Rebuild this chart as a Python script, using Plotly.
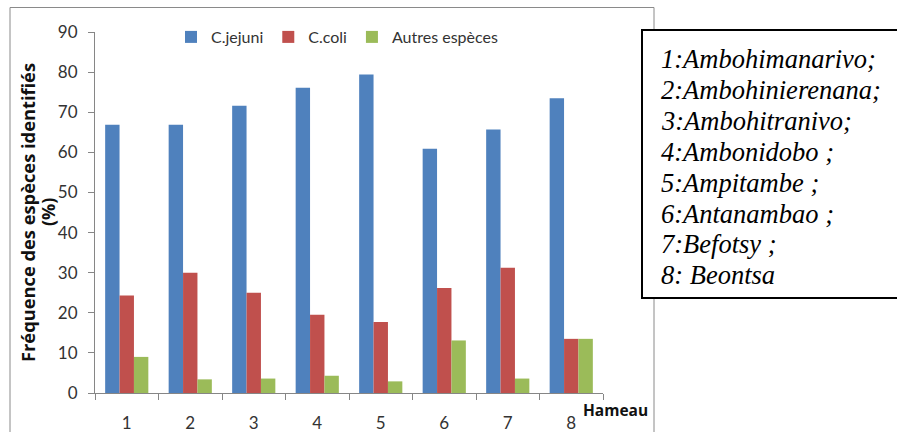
import plotly.graph_objects as go

# ---- data ----
hameaux = ["1", "2", "3", "4", "5", "6", "7", "8"]
c_jejuni = [66.9, 66.9, 71.6, 76.1, 79.4, 60.9, 65.7, 73.5]
c_coli = [24.3, 30.0, 25.0, 19.5, 17.7, 26.2, 31.2, 13.5]
autres = [9.0, 3.4, 3.6, 4.3, 2.9, 13.1, 3.6, 13.5]
series_names = ["C.jejuni", "C.coli", "Autres espèces"]
series_colors = ["#4F81BD", "#C0504D", "#9BBB59"]
y_ticks = [0, 10, 20, 30, 40, 50, 60, 70, 80, 90]
legend_lines = [
    "1:Ambohimanarivo;",
    "2:Ambohinierenana;",
    "3:Ambohitranivo;",
    "4:Ambonidobo ;",
    "5:Ampitambe ;",
    "6:Antanambao ;",
    "7:Befotsy ;",
    "8: Beontsa",
]

W, H = 897, 432
L, R, T, B = 95, 897 - 603, 32, 432 - 393
PW, PH = W - L - R, H - T - B


def px2x(px):
    return (px - L) / PW


def py2y(py):
    return (H - B - py) / PH


FONT = "Lato, Liberation Sans, Arial, sans-serif"
BOLD_FONT = "Open Sans, Liberation Sans, Arial, sans-serif"
SERIF = "Liberation Serif, Times New Roman, serif"

fig = go.Figure()
for name, vals, col in zip(series_names, [c_jejuni, c_coli, autres], series_colors):
    fig.add_trace(go.Bar(x=hameaux, y=vals, name=name, marker=dict(color=col, line=dict(width=0))))

fig.update_layout(
    width=W, height=H,
    margin=dict(l=L, r=R, t=T, b=B, pad=0, autoexpand=False),
    paper_bgcolor="white", plot_bgcolor="white",
    barmode="group", bargap=0.32, bargroupgap=0,
    font=dict(family=FONT, size=16, color="#333333"),
    showlegend=True,
    legend=dict(orientation="h", x=px2x(171), xanchor="left", y=py2y(37), yanchor="middle",
                font=dict(size=16, color="#333333"), bgcolor="rgba(0,0,0,0)",
                itemwidth=30, tracegroupgap=0),
    xaxis=dict(type="category", automargin=False, showline=True, linecolor="#868686", linewidth=1,
               ticks="outside", ticklen=6, tickcolor="#868686", tickson="boundaries",
               ticklabelstandoff=15, showgrid=False, zeroline=False,
               tickfont=dict(size=17, color="#333333")),
    yaxis=dict(range=[0, 90], tickvals=y_ticks, automargin=False, showline=True,
               linecolor="#868686", linewidth=1,
               ticks="outside", ticklen=6, tickcolor="#868686", showgrid=False, zeroline=False,
               tickfont=dict(size=17, color="#333333"), ticklabelstandoff=7,
               title=dict(text="<b>Fréquence des espèces identifiés</b>",
                          font=dict(size=18.3, color="#111111", family=BOLD_FONT), standoff=17)),
)

# second line of the y-axis title
fig.add_annotation(text="<b>(%)</b>", xref="paper", yref="paper",
                   x=px2x(47.5), y=0.5, xanchor="center", yanchor="middle", textangle=-90,
                   showarrow=False, font=dict(size=18, color="#111111", family=BOLD_FONT))

# chart outer frame
fig.add_shape(type="rect", xref="paper", yref="paper",
              x0=px2x(10), x1=px2x(654), y0=py2y(445), y1=py2y(7.5),
              line=dict(color="#8A8A8A", width=1), fillcolor="rgba(0,0,0,0)", layer="above")

# "Hameau" axis label
fig.add_annotation(text="<b>Hameau</b>", xref="paper", yref="paper",
                   x=px2x(615), y=py2y(410), xanchor="center", yanchor="middle",
                   showarrow=False, font=dict(size=15.5, color="#111111", family=BOLD_FONT))

# Text box with village names
fig.add_shape(type="rect", xref="paper", yref="paper",
              x0=px2x(642), x1=px2x(905), y0=py2y(298), y1=py2y(30),
              line=dict(color="black", width=2), fillcolor="white", layer="above")
for i, line in enumerate(legend_lines):
    fig.add_annotation(text=f"<i>{line}</i>", xref="paper", yref="paper",
                       x=px2x(659), y=py2y(59 + 30.9 * i), xanchor="left", yanchor="middle",
                       showarrow=False,
                       font=dict(size=26.5, color="black", family=SERIF))

fig.write_html("out.html", config={"displayModeBar": False},
               post_script="document.body.style.margin='0';")
